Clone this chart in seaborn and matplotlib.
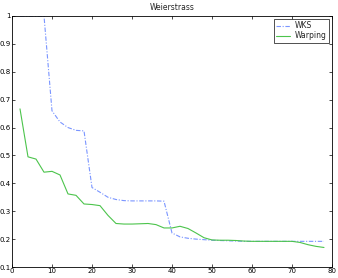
import matplotlib
matplotlib.use("Agg")
import matplotlib.pyplot as plt
import seaborn as sns
import pandas as pd

x_vals = list(range(2, 80, 2))
wks = [1.0, 1.0, 1.0, 1.0, 0.66, 0.62, 0.60, 0.59, 0.588, 0.385,
       0.368, 0.35, 0.342, 0.338, 0.337, 0.337, 0.337, 0.337, 0.336, 0.222,
       0.208, 0.203, 0.200, 0.198, 0.196, 0.195, 0.194, 0.193, 0.192, 0.192,
       0.192, 0.192, 0.192, 0.192, 0.192, 0.192, 0.192, 0.192, 0.192]
warping = [0.667, 0.495, 0.487, 0.44, 0.443, 0.43, 0.362, 0.357, 0.326, 0.324,
           0.32, 0.285, 0.256, 0.254, 0.254, 0.255, 0.256, 0.252, 0.24, 0.24,
           0.246, 0.238, 0.222, 0.205, 0.197, 0.196, 0.196, 0.195, 0.193, 0.192,
           0.192, 0.192, 0.192, 0.192, 0.192, 0.188, 0.18, 0.174, 0.17]
title = "Weierstrass"

sns.set_style("white")
plt.rcParams['font.family'] = ['DejaVu Sans']

fig = plt.figure(figsize=(3.38, 2.78), dpi=100)
ax = fig.add_axes([12/338, 1-267/278, 320/338, 251/278])

df_w = pd.DataFrame({"x": x_vals, "y": wks})
df_g = pd.DataFrame({"x": x_vals, "y": warping})
sns.lineplot(data=df_w, x="x", y="y", ax=ax, color="#7a95ff", lw=0.8,
             linestyle=(0, (4, 1.5, 1, 1.5)), label="WKS")
sns.lineplot(data=df_g, x="x", y="y", ax=ax, color="#4cc44c", lw=0.8,
             label="Warping")

ax.set_xlim(0, 80)
ax.set_ylim(0.1, 1.0)
ax.set_xticks(range(0, 81, 10))
ax.set_yticks([0.1, 0.2, 0.3, 0.4, 0.5, 0.6, 0.7, 0.8, 0.9, 1.0])
ax.set_yticklabels(["0.1", "0.2", "0.3", "0.4", "0.5", "0.6", "0.7", "0.8", "0.9", "1"])
ax.tick_params(direction="in", length=2.5, width=0.5, labelsize=5, pad=0.8,
               top=True, right=True, bottom=True, left=True, colors="black")
for s in ax.spines.values():
    s.set_color("black")
    s.set_linewidth(0.6)
ax.set_xlabel("")
ax.set_ylabel("")
ax.set_title(title, fontsize=5.5, pad=4)
leg = ax.legend(loc="upper right", fontsize=5.5, frameon=True, fancybox=False,
                edgecolor="black", borderpad=0.3, handlelength=1.8,
                handletextpad=0.6, labelspacing=0.15, borderaxespad=0.4)
leg.get_frame().set_linewidth(0.6)

fig.savefig("out.png", dpi=100)
